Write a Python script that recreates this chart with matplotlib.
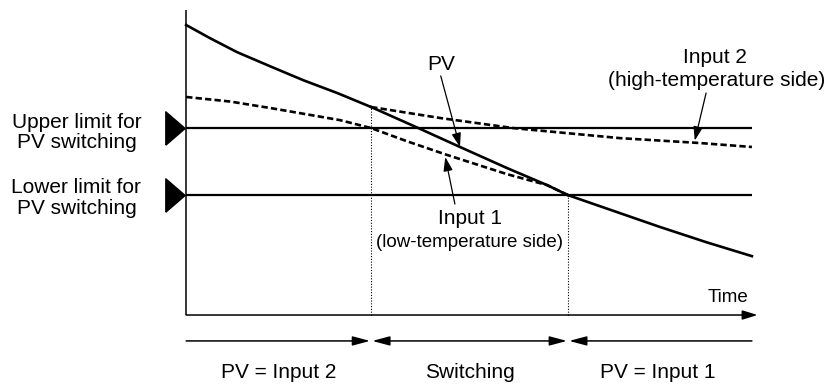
import numpy as np
import matplotlib.pyplot as plt
from matplotlib.path import Path

plt.rcParams['font.family'] = ['Liberation Sans', 'DejaVu Sans']

# time axis runs 0..10, temperature 0..100 (arbitrary units)
upper_limit = 61.3
lower_limit = 39.3
switch_start = 3.27
switch_end = 6.75

# high-temperature sensor
input2_t = np.array([0.00, 0.42, 0.90, 1.48, 2.07, 2.67, 3.27, 4.49, 5.78, 7.67, 9.08, 10.0])
input2_T = np.array([95.1, 90.8, 86.2, 81.6, 77.0, 72.8, 68.2, 64.6, 61.3, 58.0, 56.4, 55.1])

# low-temperature sensor
input1_t = np.array([0.00, 0.78, 1.48, 2.01, 2.72, 3.27, 3.90, 4.61, 5.67, 6.38, 6.75, 8.37, 9.19, 10.0])
input1_T = np.array([71.5, 70.0, 67.9, 66.2, 63.9, 61.3, 57.0, 52.5, 46.2, 42.6, 39.3, 28.9, 23.9, 19.3])

# PV while it blends from input 2 over to input 1
pv_t = np.array([3.27, 4.08, 4.84, 5.67, 6.38, 6.75])
pv_T = np.array([68.2, 61.5, 55.1, 48.2, 42.6, 39.3])

zone_labels = ["PV = Input 2", "Switching", "PV = Input 1"]

fig = plt.figure(figsize=(8.3, 3.85), dpi=100)
ax = fig.add_axes([0, 0, 1, 1])
ax.set_xlim(-3.29, 11.38)
ax.set_ylim(-22.95, 103.3)
ax.axis('off')

lw = 1.9
dash = (2.4, 1.2)

# axes of the diagram
ax.plot([0, 0], [0, 100], color='black', lw=1.1, solid_capstyle='butt')
ax.annotate('', xy=(10.1, 0), xytext=(0, 0),
            arrowprops=dict(arrowstyle='-|>,head_length=0.65,head_width=0.2',
                            color='black', lw=1.1, mutation_scale=14,
                            shrinkA=0, shrinkB=0))
ax.text(9.93, 5.6, "Time", ha='right', va='center', fontsize=13.5)

# switching limits with their markers
for lim in [upper_limit, lower_limit]:
    ax.plot([0, 10], [lim, lim], color='black', lw=1.6, solid_capstyle='butt')
tri = Path([(-0.29, -0.5), (-0.29, 0.5), (0.29, 0), (-0.29, -0.5)])
ax.plot([-0.19, -0.19], [upper_limit, lower_limit], ls='none', marker=tri,
        ms=24, color='black', clip_on=False)
ax.text(-1.94, 59.8, "Upper limit for\nPV switching", ha='center', va='center',
        fontsize=15, linespacing=1.1)
ax.text(-1.94, 38.3, "Lower limit for\nPV switching", ha='center', va='center',
        fontsize=15, linespacing=1.1)

# input curves: solid where they are the PV, dashed otherwise
m = input2_t <= switch_start
ax.plot(input2_t[m], input2_T[m], color='black', lw=lw)
m = input2_t >= switch_start
ax.plot(input2_t[m], input2_T[m], color='black', lw=lw, ls=(0, dash))
m = input1_t <= switch_end
ax.plot(input1_t[m], input1_T[m], color='black', lw=lw, ls=(0, dash))
m = input1_t >= switch_end
ax.plot(input1_t[m], input1_T[m], color='black', lw=lw)
ax.plot(pv_t, pv_T, color='black', lw=lw)

# boundaries of the switching zone
ax.plot([switch_start, switch_start], [0, pv_T[0]], color='black', lw=0.8, ls=(0, (1, 1.5)))
ax.plot([switch_end, switch_end], [0, pv_T[-1]], color='black', lw=0.8, ls=(0, (1, 1.5)))

# callouts
head = dict(arrowstyle='-|>,head_length=0.6,head_width=0.2', color='black',
            lw=0.9, mutation_scale=14, shrinkA=0, shrinkB=0)
ax.text(4.50, 82.0, "PV", ha='center', va='center', fontsize=15)
ax.annotate('', xy=(pv_t[2], pv_T[2]), xytext=(4.50, 78.4), arrowprops=head)

ax.text(9.35, 84.6, "Input 2", ha='center', va='center', fontsize=15)
ax.text(9.38, 77.0, "(high-temperature side)", ha='center', va='center', fontsize=15)
ax.annotate('', xy=(8.99, 57.2), xytext=(9.19, 72.8), arrowprops=head)

ax.text(5.02, 31.8, "Input 1", ha='center', va='center', fontsize=15)
ax.text(5.00, 23.9, "(low-temperature side)", ha='center', va='center', fontsize=13.5)
ax.annotate('', xy=(4.58, 51.8), xytext=(4.75, 36.4), arrowprops=head)

# zone arrows under the time axis
zone = dict(color='black', lw=1.1, mutation_scale=14, shrinkA=0, shrinkB=0)
ax.annotate('', xy=(switch_start - 0.02, -8.5), xytext=(0, -8.5),
            arrowprops=dict(arrowstyle='-|>,head_length=0.75,head_width=0.2', **zone))
ax.annotate('', xy=(switch_end - 0.02, -8.5), xytext=(switch_start + 0.02, -8.5),
            arrowprops=dict(arrowstyle='<|-|>,head_length=0.75,head_width=0.2', **zone))
ax.annotate('', xy=(switch_end + 0.02, -8.5), xytext=(10.0, -8.5),
            arrowprops=dict(arrowstyle='-|>,head_length=0.75,head_width=0.2', **zone))

for x, label in zip([1.63, 5.02, 8.34], zone_labels):
    ax.text(x, -18.7, label, ha='center', va='center', fontsize=15)

fig.savefig("out.png", dpi=100)
